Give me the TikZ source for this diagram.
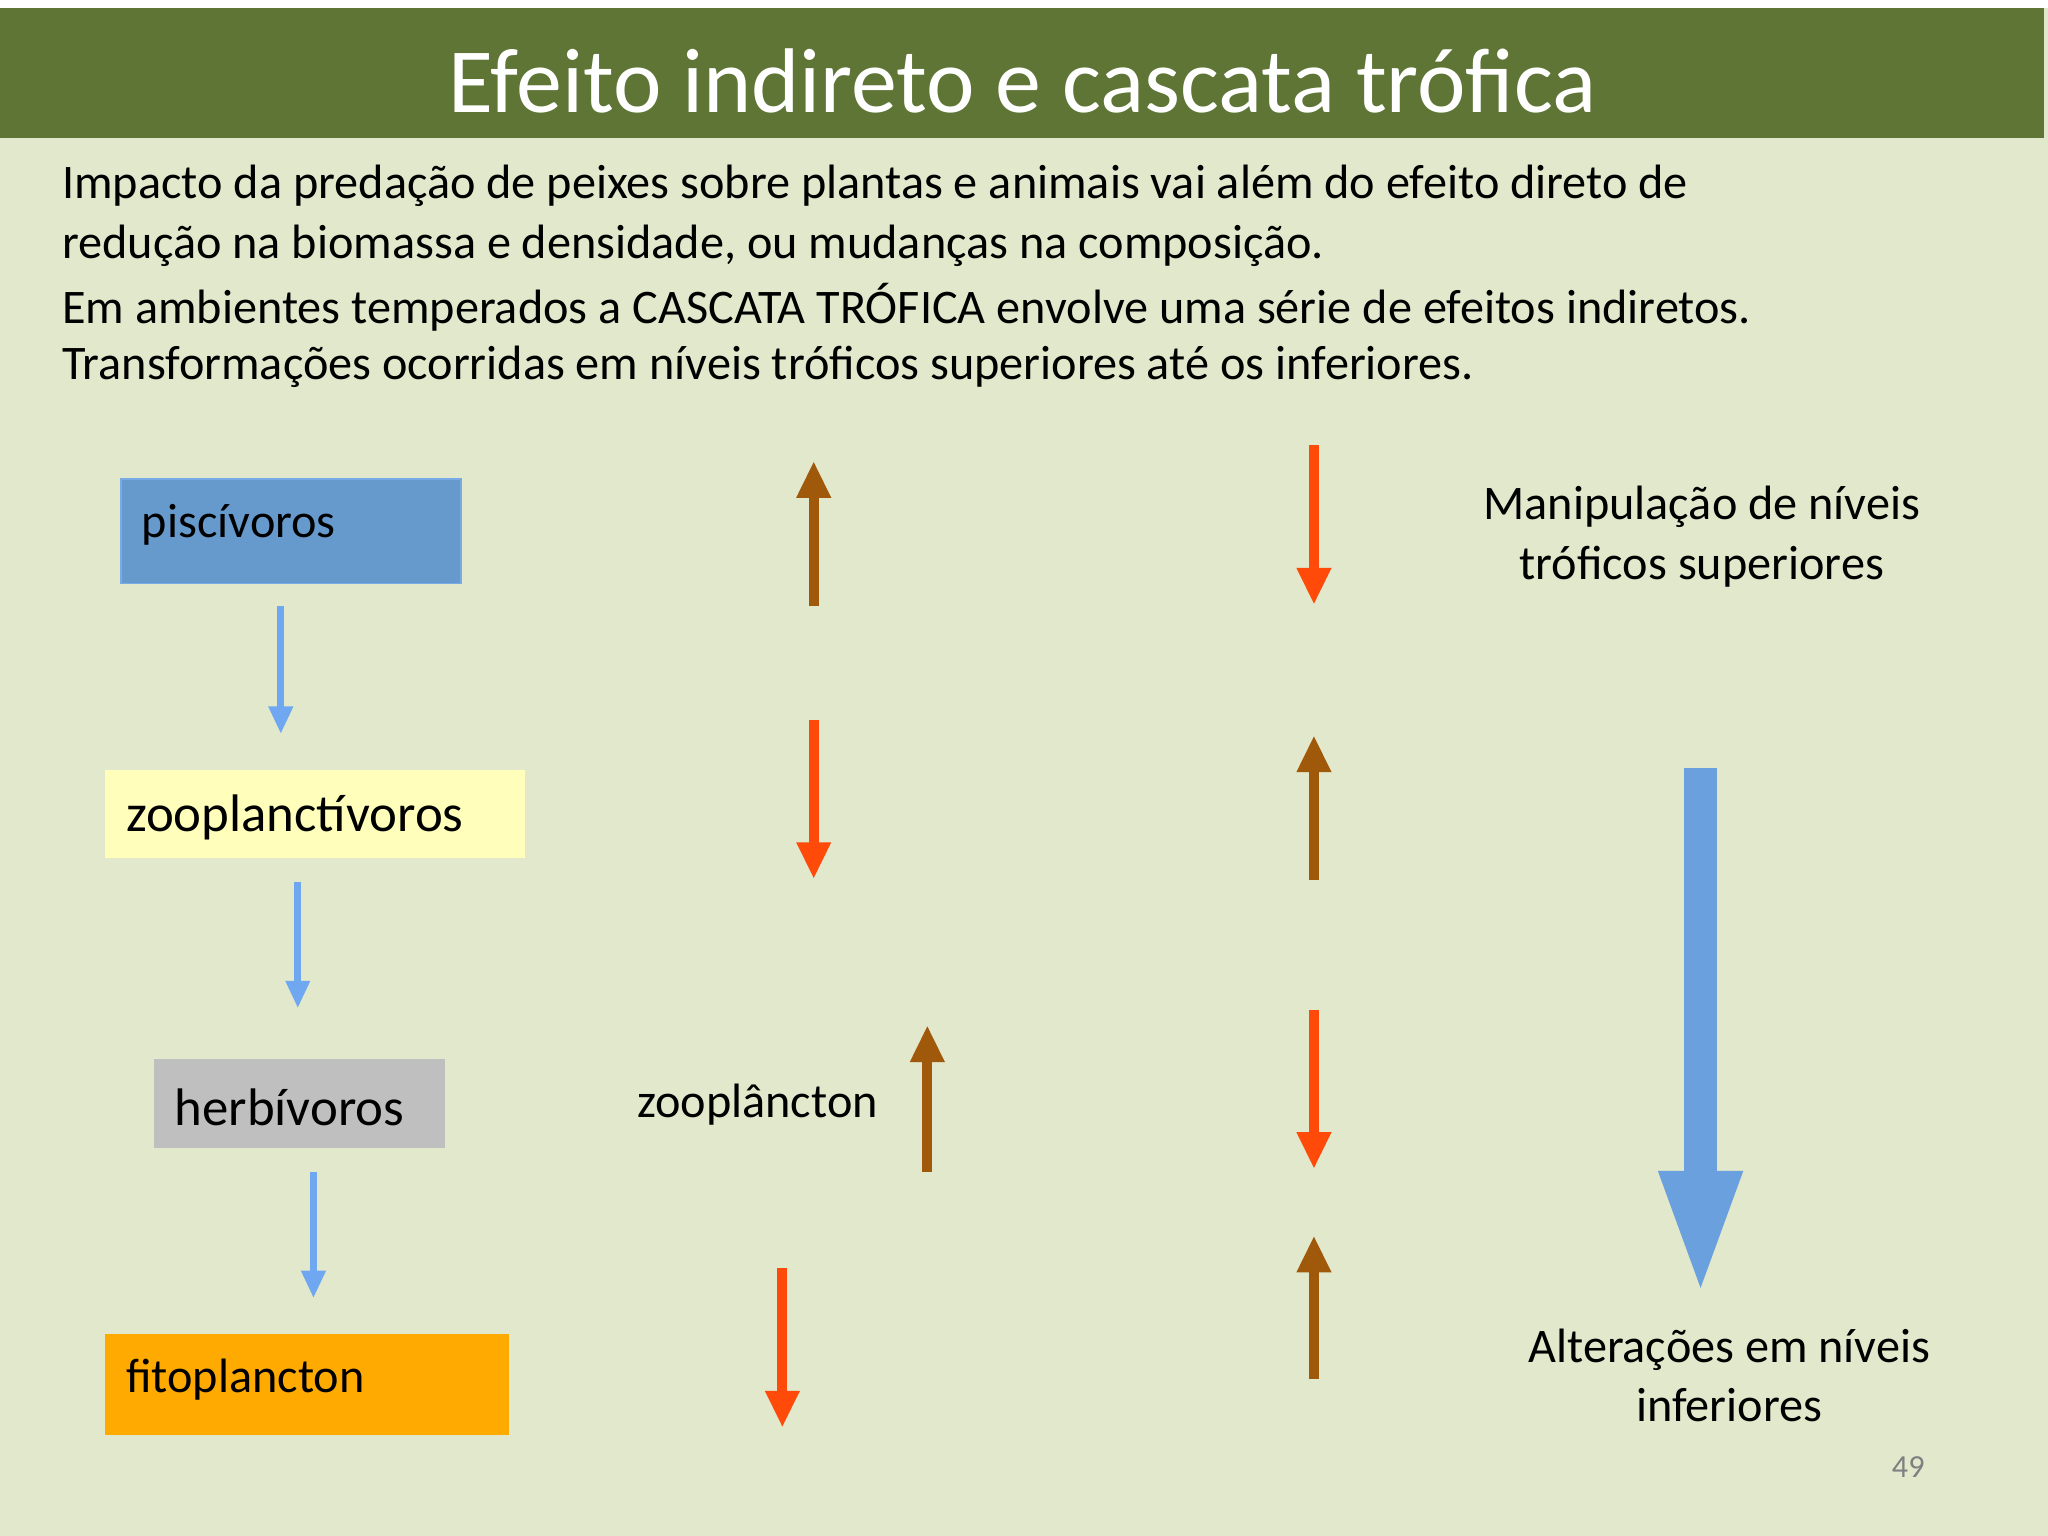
\documentclass[tikz,border=0pt]{standalone}
\usepackage{fontspec}
\setmainfont{Carlito}
\usetikzlibrary{arrows.meta}
\definecolor{bg}{HTML}{E2E8CB}
\definecolor{bar}{HTML}{5E7536}
\definecolor{bluea}{HTML}{6FA8F0}
\definecolor{brn}{HTML}{A0580A}
\definecolor{rd}{HTML}{FF4A0A}
\definecolor{bigb}{HTML}{69A0DD}
\begin{document}
\begin{tikzpicture}[x=0.01cm,y=-0.01cm,
 body/.style={font=\fontsize{10.5pt}{12pt}\selectfont,inner sep=0},
 lvl/.style={anchor=north west,inner sep=0,minimum height=#1},
 small/.style={-{Triangle[length=6pt,width=5pt]},bluea,line width=1.6pt},
 upa/.style={-{Triangle[length=8pt,width=7pt]},brn,line width=2.2pt},
 dna/.style={-{Triangle[length=8pt,width=7pt]},rd,line width=2.2pt}]
\fill[white] (0,0) rectangle (1568,1176);
\fill[bg] (0,6) rectangle (1568,1176);
\fill[bar] (0,6) rectangle (1565,106);
\node[font=\fontsize{20pt}{24pt}\selectfont,text=white] (title) at (783,62) {Efeito indireto e cascata trófica};
\node[body,anchor=west] (l1) at (47,142) {Impacto da predação de peixes sobre plantas e animais vai além do efeito direto de};
\node[body,anchor=west] (l2) at (47,188) {redução na biomassa e densidade, ou mudanças na composição.};
\node[body,anchor=west] (l3) at (47,235) {Em ambientes temperados a CASCATA TRÓFICA envolve uma série de efeitos indiretos.};
\node[body,anchor=west] (l4) at (47,281) {Transformações ocorridas em níveis tróficos superiores até os inferiores.};
% level boxes
\node[lvl=0.8cm,minimum width=2.6cm,fill={rgb,255:red,102;green,153;blue,204},draw={rgb,255:red,120;green,170;blue,230}] (pisc) at (92,366) {};
\node[body,anchor=west] at (108,402) {piscívoros};
\node[lvl=0.67cm,minimum width=3.21cm,fill={rgb,255:red,255;green,255;blue,187}] (zoo) at (80,589) {};
\node[body,anchor=west,font=\fontsize{11.5pt}{13pt}\selectfont] at (96,626) {zooplanctívoros};
\node[lvl=0.68cm,minimum width=2.23cm,fill={rgb,255:red,191;green,191;blue,191}] (herb) at (117,810) {};
\node[body,anchor=west,font=\fontsize{11.5pt}{13pt}\selectfont] at (133,848) {herbívoros};
\node[lvl=0.77cm,minimum width=3.09cm,fill={rgb,255:red,255;green,170;blue,0}] (fito) at (80,1021) {};
\node[body,anchor=west] at (96,1056) {fitoplancton};
\coordinate (b1s) at (215,464); \coordinate (b1e) at (215,562);
\coordinate (b2s) at (228,675); \coordinate (b2e) at (228,772);
\coordinate (b3s) at (240,897); \coordinate (b3e) at (240,994);
\draw[small] (b1s) -- (b1e); \draw[small] (b2s) -- (b2e); \draw[small] (b3s) -- (b3e);
\coordinate (u1s) at (623,464); \coordinate (u1e) at (623,353);
\coordinate (u2s) at (710,897); \coordinate (u2e) at (710,785);
\coordinate (u3s) at (1006,674); \coordinate (u3e) at (1006,563);
\coordinate (u4s) at (1006,1056); \coordinate (u4e) at (1006,946);
\draw[upa] (u1s)--(u1e); \draw[upa] (u2s)--(u2e); \draw[upa] (u3s)--(u3e); \draw[upa] (u4s)--(u4e);
\coordinate (d1s) at (623,551); \coordinate (d1e) at (623,673);
\coordinate (d2s) at (599,971); \coordinate (d2e) at (599,1093);
\coordinate (d3s) at (1006,341); \coordinate (d3e) at (1006,463);
\coordinate (d4s) at (1006,773); \coordinate (d4e) at (1006,895);
\draw[dna] (d1s)--(d1e); \draw[dna] (d2s)--(d2e); \draw[dna] (d3s)--(d3e); \draw[dna] (d4s)--(d4e);
\coordinate (bbs) at (1302,588); \coordinate (bbe) at (1302,995);
\draw[-{Triangle[length=28pt,width=16pt]},bigb,line width=7pt] (bbs)--(bbe);
\node[body,align=center,font=\fontsize{10.5pt}{13pt}\selectfont] (manip) at (1303,411) {Manipulação de níveis\\tróficos superiores};
\node[body,align=center,font=\fontsize{10.5pt}{13pt}\selectfont] (alt) at (1324,1053) {Alterações em níveis\\inferiores};
\node[body] (zp) at (580,846) {zooplâncton};
\node[font=\fontsize{7pt}{8pt}\selectfont,text=gray] (pg) at (1461,1123) {49};
\end{tikzpicture}
\end{document}
